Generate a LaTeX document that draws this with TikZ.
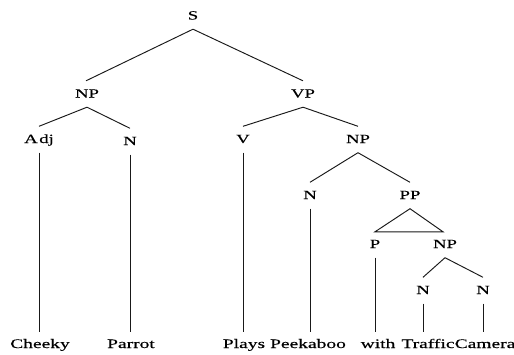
\documentclass[tikz,border=0pt]{standalone}
\usepackage{fontspec}
\setmainfont{Liberation Serif}[FakeStretch=1.5,FakeBold=0.4]
\usetikzlibrary{calc}
\begin{document}
\begin{tikzpicture}[x=1pt,y=-1pt,
  lbl/.style={font=\fontsize{12.5}{13}\selectfont, inner sep=0pt, anchor=base, text height=9pt, text depth=3pt},
  word/.style={lbl, font=\fontsize{13}{14}\selectfont},
  edge/.style={line width=0.95pt, draw=black!90}]
\useasboundingbox (0,0) rectangle (514,354);
% category labels
\node[lbl] (S)   at (193,19.5) {S};
\node[lbl] (NP1) at (87,97.5)  {NP};
\node[lbl] (VP)  at (303,97.5) {VP};
\node[lbl] (Adj) at (39,143)   {A\hspace{1.5pt}dj};
\node[lbl] (N1)  at (130,145)  {N};
\node[lbl] (V)   at (243,143)  {V};
\node[lbl] (NP2) at (358,143)  {NP};
\node[lbl] (N2)  at (310,199)  {N};
\node[lbl] (PP)  at (410,199)  {PP};
\node[lbl] (P)   at (375,248)  {P};
\node[lbl] (NP3) at (445,248)  {NP};
\node[lbl] (N3)  at (423,294)  {N};
\node[lbl] (N4)  at (483,294)  {N};
% words
\node[word] (w1) at (40,348)  {Cheeky};
\node[word] (w2) at (131,348) {Parrot};
\node[word] (w3) at (244,348) {Plays};
\node[word] (w4) at (308,348) {Peekaboo};
\node[word] (w5) at (378,348) {with};
\node[word] (w6) at (428,348) {Traffic};
\node[word] (w7) at (485,348) {Camera};
% branches
\newcommand\branch[3][0]{\draw[edge] ($(#2.south)+(0,6.5)$) -- ($(#3.north)+(#1,-7.5)$);}
\newcommand\leafline[2]{\draw[edge] ($(#1.south)+(0,6.5)$) -- ($(#1.south |- #2.north)+(0,-6.5)$);}
\branch[-1]{S}{NP1}
\branch{S}{VP}
\branch{NP1}{Adj}
\branch{NP1}{N1}
\branch{VP}{V}
\branch{VP}{NP2}
\branch{NP2}{N2}
\branch{NP2}{PP}
\draw[edge] ($(PP.south)+(0,6.5)$) -- ($(P.north)+(0,-7)$) -- ($(NP3.north)+(-2,-7)$) -- cycle;
\branch[0]{NP3}{N3}
\branch{NP3}{N4}
\leafline{Adj}{w1}
\leafline{N1}{w2}
\leafline{V}{w3}
\leafline{N2}{w4}
\leafline{P}{w5}
\leafline{N3}{w6}
\leafline{N4}{w7}
\end{tikzpicture}
\end{document}
